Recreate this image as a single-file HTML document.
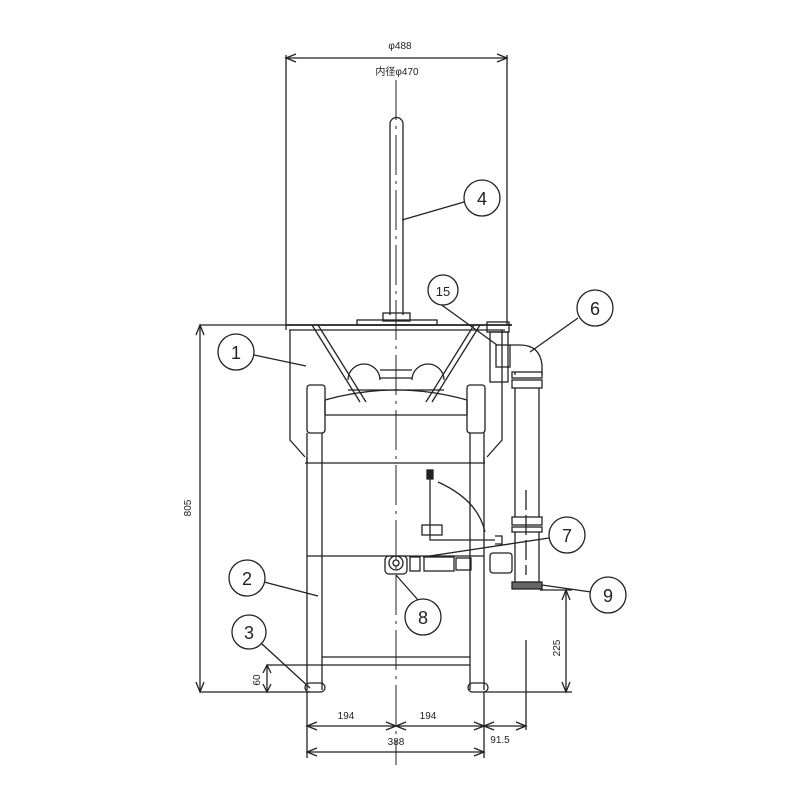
<!DOCTYPE html>
<html><head><meta charset="utf-8"><style>html,body{margin:0;background:#fff}svg{display:block}</style></head>
<body>
<svg width="800" height="800" viewBox="0 0 800 800" xmlns="http://www.w3.org/2000/svg" font-family="'Liberation Sans','Noto Sans CJK JP',sans-serif" fill="none" stroke="#222" stroke-width="1.3">
<!-- top dimension -->
<line x1="286" y1="58" x2="507" y2="58"/>
<path d="M296 54 L286 58 L296 62 M497 54 L507 58 L497 62"/>
<line x1="286" y1="55" x2="286" y2="330"/>
<line x1="507" y1="55" x2="507" y2="325"/>
<text x="400" y="49" font-size="10" fill="#222" stroke="none" text-anchor="middle">φ488</text>
<text x="397" y="75" font-size="10" fill="#222" stroke="none" text-anchor="middle">内径φ470</text>
<!-- center line -->
<line x1="396" y1="80" x2="396" y2="765" stroke-dasharray="40,6,3,6" stroke-width="1"/>
<!-- stirrer -->
<path d="M390 315 L390 124 A6.5 6.5 0 0 1 403 124 L403 315"/>
<rect x="383" y="313" width="27" height="8"/>
<rect x="357" y="320" width="80" height="5"/>
<!-- pot -->
<line x1="287" y1="325" x2="512" y2="325" stroke-width="1.8"/>
<line x1="289" y1="330" x2="505" y2="330"/>
<path d="M290 330 L290 440 L305 457 M502 330 L502 440 L487 457"/>
<!-- braces -->
<path d="M312 325 L360 402 M318 325 L366 402 M480 325 L432 402 M474 325 L426 402"/>
<path d="M348 380 A16 16 0 0 1 380 380 M412 380 A16 16 0 0 1 444 380 M380 370 L412 370 M380 378 L412 378 M348 390 L444 390"/>
<path d="M325 400 Q396 380 467 400 M325 400 L325 415 M467 400 L467 415 M325 415 L467 415"/>
<rect x="307" y="385" width="18" height="48" rx="3"/>
<rect x="467" y="385" width="18" height="48" rx="3"/>
<!-- frame -->
<path d="M305 463 L485 463 M307 457 L307 690 M322 463 L322 690 M470 463 L470 690 M484 457 L484 690"/>
<path d="M307 433 L307 463 M322 433 L322 463 M470 433 L470 463 M484 433 L484 463"/>
<line x1="307" y1="556" x2="484" y2="556"/>
<line x1="322" y1="657" x2="470" y2="657"/>
<line x1="267" y1="665" x2="470" y2="665"/>
<rect x="305" y="683" width="20" height="9" rx="4.5"/>
<rect x="468" y="683" width="20" height="9" rx="4.5"/>
<!-- handle & valve -->
<rect x="427" y="470" width="6" height="9" fill="#222"/>
<path d="M430 479 L430 540 L495 540"/>
<rect x="422" y="525" width="20" height="10"/>
<path d="M438 482 Q478 500 485 532"/>
<path d="M495 536 L502 536 L502 544 L495 544"/>
<circle cx="396" cy="563" r="7"/><circle cx="396" cy="563" r="3"/>
<rect x="385" y="556" width="22" height="18" rx="4"/>
<rect x="410" y="557" width="10" height="14"/>
<rect x="424" y="557" width="30" height="14"/>
<rect x="456" y="558" width="15" height="12"/>
<rect x="490" y="553" width="22" height="20" rx="3"/>
<!-- right pipe -->
<rect x="487" y="322" width="22" height="10"/>
<rect x="490" y="332" width="18" height="50"/>
<rect x="496" y="345" width="14" height="22"/>
<path d="M510 345 L520 345 Q540 345 542 365 L542 375 M515 372 L515 375"/>
<rect x="512" y="372" width="30" height="6"/>
<rect x="512" y="380" width="30" height="8"/>
<line x1="515" y1="388" x2="515" y2="517"/>
<line x1="539" y1="388" x2="539" y2="517"/>
<rect x="512" y="517" width="30" height="8"/>
<rect x="512" y="527" width="30" height="5"/>
<line x1="515" y1="532" x2="515" y2="582"/>
<line x1="539" y1="532" x2="539" y2="582"/>
<rect x="512" y="582" width="30" height="7" fill="#666"/>
<line x1="526" y1="490" x2="526" y2="575" stroke-dasharray="20,5"/>
<line x1="526" y1="640" x2="526" y2="730"/>
<!-- dims -->
<line x1="200" y1="325" x2="290" y2="325"/>
<line x1="200" y1="325" x2="200" y2="692"/>
<path d="M196 335 L200 325 L204 335 M196 682 L200 692 L204 682"/>
<line x1="200" y1="692" x2="310" y2="692"/>
<text transform="translate(191,508) rotate(-90)" font-size="10" fill="#222" stroke="none" text-anchor="middle">805</text>
<line x1="267" y1="665" x2="267" y2="692"/>
<path d="M263 673 L267 665 L271 673 M263 684 L267 692 L271 684"/>
<text transform="translate(260,680) rotate(-90)" font-size="10" fill="#222" stroke="none" text-anchor="middle">60</text>
<line x1="540" y1="590" x2="572" y2="590"/>
<line x1="484" y1="692" x2="572" y2="692"/>
<line x1="566" y1="590" x2="566" y2="692"/>
<path d="M562 600 L566 590 L570 600 M562 682 L566 692 L570 682"/>
<text transform="translate(560,648) rotate(-90)" font-size="10" fill="#222" stroke="none" text-anchor="middle">225</text>
<line x1="307" y1="692" x2="307" y2="758"/>
<line x1="484" y1="692" x2="484" y2="758"/>
<line x1="307" y1="726" x2="526" y2="726"/>
<path d="M317 722 L307 726 L317 730 M386 722 L396 726 L386 730 M406 722 L396 726 L406 730 M474 722 L484 726 L474 730 M494 722 L484 726 L494 730 M516 722 L526 726 L516 730"/>
<line x1="307" y1="752" x2="484" y2="752"/>
<path d="M317 748 L307 752 L317 756 M474 748 L484 752 L474 756"/>
<g font-size="10" fill="#222" stroke="none" text-anchor="middle">
<text x="346" y="719">194</text><text x="428" y="719">194</text>
<text x="396" y="745">388</text><text x="500" y="743">91.5</text>
</g>
<!-- leaders -->
<path d="M464 202 L402 220 M432 298 L497 345 M578 318 L530 352 M254 355 L306 366 M549 538 L423 557 M264 582 L318 596 M418 600 L396 575 M262 644 L310 688 M591 592 L542 585"/>
<g fill="#fff">
<circle cx="482" cy="198" r="18"/><circle cx="443" cy="290" r="15"/><circle cx="595" cy="308" r="18"/>
<circle cx="236" cy="352" r="18"/><circle cx="567" cy="535" r="18"/><circle cx="247" cy="578" r="18"/>
<circle cx="423" cy="617" r="18"/><circle cx="249" cy="632" r="17"/><circle cx="608" cy="595" r="18"/>
</g>
<g font-size="18" fill="#222" stroke="none" text-anchor="middle">
<text x="482" y="205">4</text><text x="443" y="296" font-size="13">15</text><text x="595" y="315">6</text>
<text x="236" y="359">1</text><text x="567" y="542">7</text><text x="247" y="585">2</text>
<text x="423" y="624">8</text><text x="249" y="639">3</text><text x="608" y="602">9</text>
</g>
</svg>
</body></html>
